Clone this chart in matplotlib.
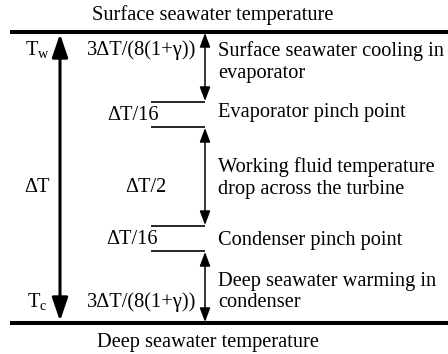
import numpy as np
import matplotlib.pyplot as plt
from matplotlib.patches import FancyArrowPatch, ArrowStyle

plt.rcParams['font.family'] = ['Liberation Serif', 'DejaVu Serif']
plt.rcParams['mathtext.fontset'] = 'custom'
plt.rcParams['mathtext.rm'] = 'Liberation Serif'

# heights of the profile segments, top to bottom (diagram units)
segments = [70, 25, 99, 25, 72]
seg_labels = ["3ΔT/(8(1+γ))", "ΔT/16", "ΔT/2", "ΔT/16", "3ΔT/(8(1+γ))"]
seg_notes = ["Surface seawater cooling in\nevaporator",
             "Evaporator pinch point",
             "Working fluid temperature\ndrop across the turbine",
             "Condenser pinch point",
             "Deep seawater warming in\ncondenser"]
top_title = "Surface seawater temperature"
bottom_title = "Deep seawater temperature"
side_labels = [r"$\mathrm{T_w}$", "ΔT", r"$\mathrm{T_c}$"]

W, H = 448, 354
top = 32
levels = top + np.concatenate([[0], np.cumsum(segments)])
bottom = levels[-1]

fig = plt.figure(figsize=(W / 100, H / 100), dpi=100)
ax = fig.add_axes([0, 0, 1, 1])
ax.set_xlim(0, W)
ax.set_ylim(H, 0)
ax.axis("off")

fs = 14.7

# thick horizontal lines
ax.plot([10, W], [top, top], color="black", lw=2.9, solid_capstyle="butt")
ax.plot([10, W], [bottom, bottom], color="black", lw=2.9, solid_capstyle="butt")

# short pinch lines
x_arr = 205
for y in levels[1:-1]:
    ax.plot([151, x_arr], [y, y], color="black", lw=1.2, solid_capstyle="butt")

# big arrow
big = ArrowStyle("<|-|>", head_length=14, head_width=4.8)
ax.add_patch(FancyArrowPatch((60, top + 2), (60, bottom - 2), arrowstyle=big,
                             mutation_scale=1, lw=2.2, color="black",
                             shrinkA=0, shrinkB=0))

# segment arrows (skip pinch segments)
small = ArrowStyle("<|-|>", head_length=8.5, head_width=3.2)
for i in [0, 2, 4]:
    ax.add_patch(FancyArrowPatch((x_arr, levels[i] + 1), (x_arr, levels[i + 1] - 1),
                                 arrowstyle=small, mutation_scale=1, lw=1.1,
                                 color="black", shrinkA=0, shrinkB=0))

# segment labels
lab_pos = [(142, 50), (133, 115), (146, 187), (132, 240), (142, 302)]
for (x, y), t in zip(lab_pos, seg_labels):
    ax.text(x, y, t, ha="center", va="center", fontsize=fs)

note_y = [62, 113, 178, 240, 292]
for y, t in zip(note_y, seg_notes):
    ax.text(218, y, t, ha="left", va="center", fontsize=fs, linespacing=1.15)

for y, t in zip([50, 187, 302], side_labels):
    ax.text(37, y, t, ha="center", va="center", fontsize=fs)

ax.text(213, 15, top_title, ha="center", va="center", fontsize=fs)
ax.text(208, 342, bottom_title, ha="center", va="center", fontsize=fs)

fig.savefig("out.png", dpi=100)
